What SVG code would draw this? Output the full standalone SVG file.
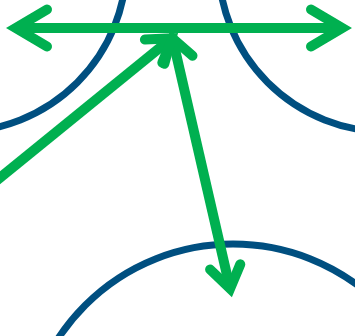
<svg xmlns="http://www.w3.org/2000/svg" width="355" height="336" viewBox="0 0 355 336">
  <style>
    .node { fill: none; stroke: #004f80; stroke-width: 7; }
    .conn { fill: none; stroke: #00b050; stroke-width: 10; stroke-linecap: butt; }
    .head { fill: none; stroke: #00b050; stroke-width: 10; stroke-linecap: round; stroke-linejoin: miter; stroke-miterlimit: 10; }
  </style>
  <rect width="355" height="336" fill="#ffffff"/>
  <g id="node-top-left">
    <circle class="node" cx="-41.5" cy="-36.3" r="168"/>
  </g>
  <g id="node-top-right">
    <circle class="node" cx="386.5" cy="-36.3" r="168"/>
  </g>
  <g id="node-bottom">
    <circle class="node" cx="233" cy="453" r="209"/>
  </g>
  <g id="connectors">
    <line class="conn" x1="15.8" y1="28" x2="342.2" y2="28"/>
    <polyline class="head" points="47,9.5 15.8,28 47,46.5"/>
    <polyline class="head" points="311,9.5 342.2,28 311,46.5"/>
    <line class="conn" x1="-20" y1="194" x2="171.4" y2="38.3"/>
    <polyline class="head" points="144.9,39.6 171.4,38.3 164.3,63.8"/>
    <line class="conn" x1="172.5" y1="38.3" x2="230.1" y2="288.7"/>
    <polyline class="head" points="192.5,55.7 172.5,38.3 162.3,62.7"/>
    <polyline class="head" points="210.1,269.5 230.1,288.7 240.3,264.3"/>
  </g>
</svg>
